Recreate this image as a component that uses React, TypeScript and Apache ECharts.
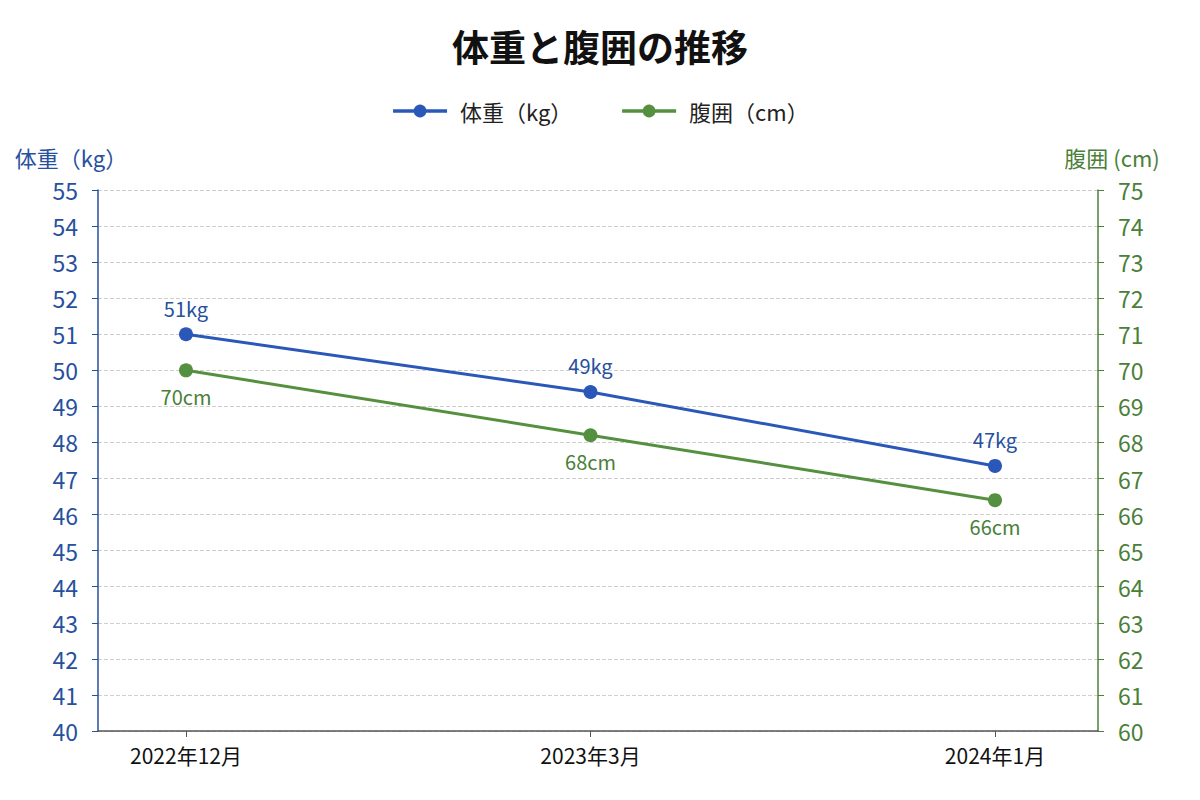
import { useEffect, useRef } from 'react'
import * as echarts from 'echarts'

const categories = ['2022年12月', '2023年3月', '2024年1月']
const weightValues = [51, 49.4, 47.35]
const weightLabels = ['51kg', '49kg', '47kg']
const waistValues = [70, 68.2, 66.4]
const waistLabels = ['70cm', '68cm', '66cm']

const BLUE = '#2b58b8'
const BLUE_TEXT = '#27509e'
const GREEN = '#54903f'
const GREEN_TEXT = '#4a8038'
const FONT = '"Noto Sans CJK JP", "Noto Sans", sans-serif'

export default function App() {
  const chartRef = useRef<HTMLDivElement>(null)

  useEffect(() => {
    if (!chartRef.current) return
    const chart = echarts.init(chartRef.current, undefined, { renderer: 'svg' })

    const idx = categories.map((_, i) => i)

    const option: echarts.EChartsOption = {
      animation: false,
      backgroundColor: '#ffffff',
      textStyle: { fontFamily: FONT },
      title: {
        text: '体重と腹囲の推移',
        left: 'center',
        top: 22,
        textStyle: { fontSize: 37, fontWeight: 'bold', color: '#111', fontFamily: FONT },
      },
      legend: {
        top: 95,
        left: 'center',
        itemWidth: 54,
        itemHeight: 16,
        itemGap: 48,
        lineStyle: { width: 3.5 },
        textStyle: { fontSize: 22, color: '#222', padding: [0, 0, 0, 8], fontFamily: FONT },
        data: ['体重（kg）', '腹囲（cm）'],
      },
      grid: {
        left: 98,
        right: 102,
        top: 190,
        bottom: 69,
      },
      xAxis: {
        type: 'value',
        min: -0.2175,
        max: 2.2546,
        splitLine: { show: false },
        axisLine: { show: true, onZero: false, lineStyle: { color: '#555', width: 1.5 } },
        axisTick: { show: true, customValues: idx, length: 6, lineStyle: { color: '#555' } },
        axisLabel: {
          customValues: idx,
          formatter: (v: number) => categories[Math.round(v)] ?? '',
          color: '#111',
          fontSize: 21,
          margin: 13,
          fontFamily: FONT,
        },
      },
      yAxis: [
        {
          type: 'value',
          position: 'left',
          min: 40,
          max: 55,
          interval: 1,
          name: '体重（kg）',
          nameLocation: 'end',
          nameGap: 22,
          nameTextStyle: { color: BLUE_TEXT, fontSize: 22, align: 'center', padding: [0, 54, 0, 0], fontFamily: FONT },
          axisLine: { show: true, onZero: false, lineStyle: { color: BLUE_TEXT, width: 1.5 } },
          axisTick: { show: true, length: 6, lineStyle: { color: BLUE_TEXT } },
          axisLabel: { color: BLUE_TEXT, fontSize: 23, margin: 20, fontFamily: FONT },
          splitLine: { show: true, lineStyle: { color: '#cfcfcf', type: 'dashed', width: 1 } },
        },
        {
          type: 'value',
          position: 'right',
          min: 60,
          max: 75,
          interval: 1,
          name: '腹囲 (cm)',
          nameLocation: 'end',
          nameGap: 22,
          nameTextStyle: { color: GREEN_TEXT, fontSize: 22, align: 'center', padding: [0, 0, 0, 28], fontFamily: FONT },
          axisLine: { show: true, onZero: false, lineStyle: { color: GREEN_TEXT, width: 1.5 } },
          axisTick: { show: true, length: 6, lineStyle: { color: GREEN_TEXT } },
          axisLabel: { color: GREEN_TEXT, fontSize: 23, margin: 20, fontFamily: FONT },
          splitLine: { show: false },
        },
      ],
      series: [
        {
          name: '体重（kg）',
          type: 'line',
          yAxisIndex: 0,
          data: weightValues.map((v, i) => [i, v]),
          symbol: 'circle',
          symbolSize: 14,
          lineStyle: { color: BLUE, width: 3 },
          itemStyle: { color: BLUE },
          label: {
            show: true,
            position: 'top',
            distance: 9,
            color: BLUE_TEXT,
            fontSize: 20,
            fontFamily: FONT,
            formatter: (p: any) => weightLabels[p.dataIndex],
          },
        },
        {
          name: '腹囲（cm）',
          type: 'line',
          yAxisIndex: 1,
          data: waistValues.map((v, i) => [i, v]),
          symbol: 'circle',
          symbolSize: 14,
          lineStyle: { color: GREEN, width: 3 },
          itemStyle: { color: GREEN },
          label: {
            show: true,
            position: 'bottom',
            distance: 9,
            color: GREEN_TEXT,
            fontSize: 20,
            fontFamily: FONT,
            formatter: (p: any) => waistLabels[p.dataIndex],
          },
        },
      ],
    }

    chart.setOption(option)

    return () => {
      chart.dispose()
    }
  }, [])

  return <div ref={chartRef} style={{ width: 1200, height: 800, margin: -8 }} />
}
